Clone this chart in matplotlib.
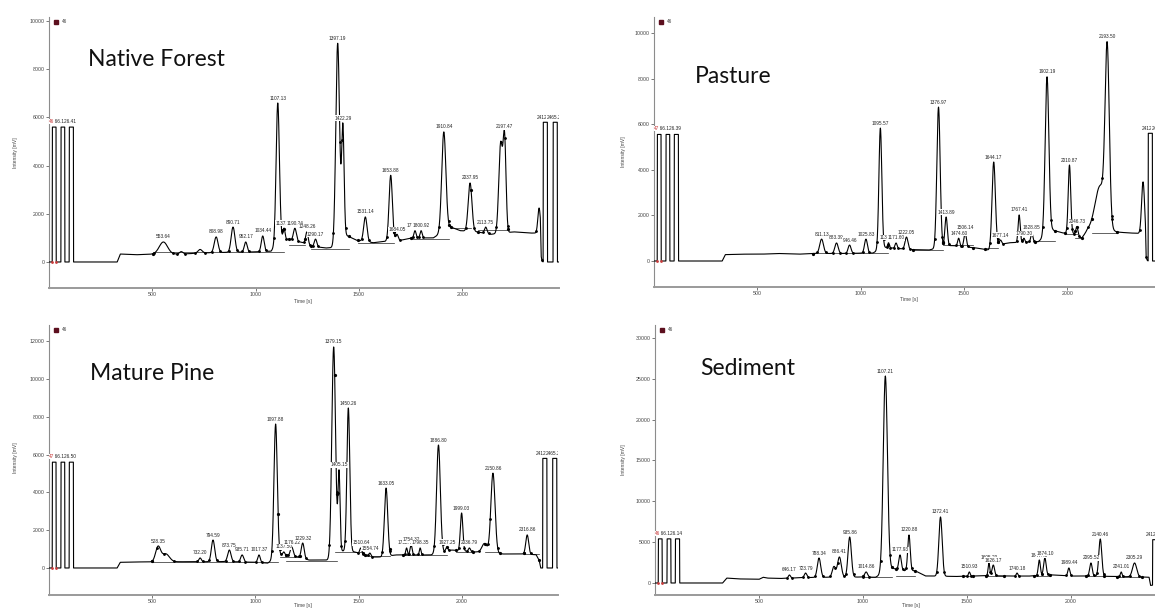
import numpy as np
import matplotlib
matplotlib.use("Agg")
import matplotlib.pyplot as plt

# ---------------- data ----------------
# Native Forest
nf_peak_x = [553.64, 640, 731, 808.98, 890.71, 952.17, 1034.44, 1107.13, 1137.58, 1190.24, 1248.26, 1290.17,
             1397.19, 1422.29, 1531.14, 1653.88, 1684.05, 1771.40, 1800.92, 1910.84, 2037.95, 2113.75,
             2186, 2205, 2372]
nf_peak_top = [830, 430, 520, 1040, 1450, 830, 1080, 6600, 1400, 1400, 1250, 950,
               9080, 5600, 1870, 3600, 1150, 1300, 1300, 5400, 3280, 1450,
               4900, 5000, 2240]
nf_peak_sd = [20, 8, 10, 9, 9, 7, 7, 8, 5, 7, 6, 6,
              9, 6, 8, 8, 6, 5, 5, 10, 9, 6,
              9, 7, 6]
nf_peak_lab = ["553.64", "", "", "808.98", "890.71", "952.17", "1034.44", "1107.13", "1137.58", "1190.24",
               "1248.26", "1290.17", "1397.19", "1422.29", "1531.14", "1653.88", "1684.05", "1771.40",
               "1800.92", "1910.84", "2037.95", "2113.75", "", "2197.47", ""]
nf_base_x = [0, 330, 345, 420, 520, 640, 760, 860, 1000, 1075, 1120, 1160, 1230, 1270, 1340, 1375, 1440,
             1490, 1570, 1620, 1700, 1760, 1860, 1945, 1990, 2070, 2140, 2250, 2330, 2378, 2382, 2466]
nf_base_y = [0, 0, 330, 300, 330, 330, 380, 400, 420, 450, 900, 950, 800, 660, 580, 600, 1100,
             900, 800, 850, 900, 1000, 1000, 1450, 1300, 1250, 1150, 1250, 1200, 1200, 0, 0]
nf_seg_x0 = [505, 1160, 1266, 1495, 1752, 1946, 2078]
nf_seg_x1 = [1136, 1240, 1450, 1670, 1937, 2043, 2223]
nf_seg_y = [430, 700, 540, 800, 950, 1400, 1330]

# Pasture
pa_peak_x = [811.13, 883.39, 946.46, 1025.83, 1095.57, 1135.20, 1171.60, 1222.05, 1376.97, 1413.89,
             1474.60, 1506.14, 1644.17, 1677.14, 1767.41, 1790.30, 1828.85, 1902.19, 2010.87, 2046.73,
             2160, 2193.50, 2367]
pa_peak_top = [960, 790, 700, 960, 5830, 800, 790, 1050, 6750, 1930,
               1000, 1230, 4340, 920, 2020, 1000, 1230, 8080, 4210, 1500,
               3300, 8800, 3470]
pa_peak_sd = [9, 8, 7, 7, 7, 4, 5, 7, 8, 6,
              5, 6, 8, 5, 5, 4, 5, 9, 6, 5,
              25, 10, 7]
pa_peak_lab = ["811.13", "883.39", "946.46", "1025.83", "1095.57", "1135.20", "1171.60", "1222.05",
               "1376.97", "1413.89", "1474.60", "1506.14", "1644.17", "1677.14", "1767.41", "1790.30",
               "1828.85", "1902.19", "2010.87", "2046.73", "", "2193.50", ""]
pa_base_x = [0, 330, 345, 420, 520, 600, 700, 780, 900, 1060, 1110, 1250, 1330, 1390, 1440, 1560, 1620,
             1660, 1720, 1860, 1930, 1980, 2030, 2070, 2100, 2240, 2300, 2378, 2382, 2466]
pa_base_y = [0, 0, 280, 300, 300, 330, 300, 330, 330, 350, 600, 500, 480, 600, 680, 570, 480,
             700, 800, 850, 1350, 1230, 1200, 1000, 1350, 1270, 1230, 1200, 0, 0]
pa_seg_x0 = [770, 1254, 1400, 1602, 1843, 1988, 2040, 2119]
pa_seg_x1 = [1131, 1399, 1545, 1665, 1940, 2046, 2070, 2240]
pa_seg_y = [350, 470, 680, 570, 890, 1200, 1000, 1230]

# Mature Pine
mp_peak_x = [528.35, 565, 732.20, 794.59, 873.75, 935.71, 1017.37, 1097.88, 1137.50, 1176.22, 1229.32,
             1379.15, 1405.15, 1450.26, 1510.64, 1554.74, 1633.05, 1732.40, 1754.32, 1798.35, 1886.80,
             1927.25, 1999.03, 2036.79, 2110, 2150.86, 2316.86]
mp_peak_top = [1110, 750, 530, 1480, 950, 690, 690, 7620, 850, 1110, 1320,
               11700, 5020, 8470, 1060, 790, 4230, 1060, 1220, 1060, 6510,
               1110, 2910, 1060, 1300, 5020, 1750]
mp_peak_sd = [12, 18, 6, 8, 8, 7, 6, 8, 5, 7, 7,
              9, 5, 7, 5, 5, 8, 4, 5, 4, 9,
              5, 6, 5, 12, 10, 7]
mp_peak_lab = ["528.35", "", "732.20", "794.59", "873.75", "935.71", "1017.37", "1097.88", "1137.50",
               "1176.22", "1229.32", "1379.15", "1405.15", "1450.26", "1510.64", "1554.74", "1633.05",
               "1732.40", "1754.32", "1798.35", "1886.80", "1927.25", "1999.03", "2036.79", "",
               "2150.86", "2316.86"]
mp_base_x = [0, 330, 345, 420, 480, 620, 700, 760, 860, 1000, 1060, 1120, 1200, 1260, 1360, 1420, 1480,
             1570, 1610, 1680, 1850, 1950, 2060, 2100, 2200, 2300, 2360, 2375, 2382, 2466]
mp_base_y = [0, 0, 300, 320, 320, 330, 330, 330, 340, 300, 260, 700, 600, 420, 420, 900, 850,
             580, 580, 690, 690, 950, 850, 850, 740, 740, 700, 400, 0, 0]
mp_seg_x0 = [500, 1118, 1150, 1384, 1530, 1713, 1970, 2112, 2300]
mp_seg_x1 = [1110, 1215, 1394, 1520, 1650, 1926, 2055, 2185, 2373]
mp_seg_y = [320, 580, 370, 850, 630, 690, 850, 850, 740]

# Sediment
sd_peak_x = [646.17, 723.79, 788.34, 860, 886.41, 935.86, 1014.86, 1107.21, 1177.93, 1220.88, 1372.41,
             1510.93, 1605.20, 1626.17, 1740.18, 1847.40, 1874.10, 1989.44, 2095.52, 2140.46, 2241.01,
             2305.29]
sd_peak_top = [980, 1220, 3060, 2000, 3180, 5630, 1350, 25340, 3430, 5880, 8080,
               1350, 2450, 2200, 1220, 2815, 3060, 1840, 2450, 5385, 1350,
               2450]
sd_peak_sd = [5, 6, 8, 8, 9, 8, 7, 10, 6, 6, 8,
              4, 4, 6, 4, 5, 6, 5, 6, 7, 4,
              10]
sd_peak_lab = ["646.17", "723.79", "788.34", "", "886.41", "935.86", "1014.86", "1107.21", "1177.93",
               "1220.88", "1372.41", "1510.93", "1605.20", "1626.17", "1740.18", "1847.40", "1874.10",
               "1989.44", "2095.52", "2140.46", "2241.01", "2305.29"]
sd_base_x = [0, 325, 345, 400, 500, 520, 540, 600, 700, 800, 1000, 1060, 1140, 1200, 1250, 1300, 1450,
             1600, 1700, 1800, 1900, 2000, 2100, 2200, 2350, 2375, 2382, 2466]
sd_base_y = [0, 0, 600, 500, 450, 700, 600, 550, 650, 700, 730, 700, 1800, 1500, 1500, 860, 800,
             900, 850, 850, 1000, 850, 850, 800, 730, 700, -300, 0]
sd_seg_x0 = [1000, 1159, 1480, 1590, 1820, 2070, 2220]
sd_seg_x1 = [1140, 1250, 1530, 1680, 1900, 2160, 2340]
sd_seg_y = [730, 860, 800, 850, 880, 850, 780]

# size-standard pulses at both ends of every run
std_x0 = [16, 58, 98]
std_x1 = [34, 76, 118]
end_x0 = [2392, 2440]
end_x1 = [2412, 2460]
end_lab = ["2412.34", "2465.21"]

W, H = 1155, 608
x = np.arange(0, 2466.5, 0.5)


def px_x(p):
    return p / W


def px_y(p):
    return 1 - p / H


def build_trace(bx, by, pk_x, pk_top, pk_sd, std_h, end_h):
    y = np.interp(x, bx, by)
    for c, top, s in zip(pk_x, pk_top, pk_sd):
        amp = top - np.interp(c, bx, by)
        y = y + amp * np.exp(-0.5 * ((x - c) / s) ** 2)
    for a, b in zip(std_x0, std_x1):
        y[(x >= a) & (x <= b)] = std_h
    for a, b in zip(end_x0, end_x1):
        y[(x >= a) & (x <= b)] = end_h
    return y


def panel(rect_px, ylim, yticks, y, pk_x, pk_sd, pk_lab, s0, s1, sy, std_txt, red_txt):
    l, t, r, b = rect_px
    ax = fig.add_axes([px_x(l), px_y(b), (r - l) / W, (b - t) / H])
    ax.set_xlim(0, 2466)
    ax.set_ylim(*ylim)
    dy = (ylim[1] - ylim[0]) / (b - t)   # data units per pixel

    ax.plot(x, y, color="black", lw=0.8, zorder=3)
    for a, c, v in zip(s0, s1, sy):
        ax.plot([a, c], [v, v], color="#222222", lw=0.5, zorder=2)
        ax.plot([a, c], np.interp([a, c], x, y), "o", color="black", ms=1.3, zorder=4)
    # peak start / end dots
    for c, s in zip(pk_x, pk_sd):
        ex = [c - 2.3 * s, c + 2.3 * s]
        ax.plot(ex, np.interp(ex, x, y), "o", color="black", ms=1.0, zorder=4)

    lab_kw = dict(fontsize=3.4, family="Liberation Sans", color="#222222", ha="center", va="bottom",
                  clip_on=True, zorder=6, bbox=dict(fc="white", ec="none", pad=0.15))
    for c, lab in zip(pk_x, pk_lab):
        if lab == "":
            continue
        top = np.interp(c, x, y)
        ax.text(c, top + 2.5 * dy, lab, **lab_kw)
    end_top = y[(x >= end_x0[0]) & (x <= end_x1[0])].max()
    for a, c, lab in zip(end_x0, end_x1, end_lab):
        ax.text((a + c) / 2, end_top + 2.5 * dy, lab, **lab_kw)

    std_top = y[(x >= std_x0[0]) & (x <= std_x1[0])].max()
    kw = dict(fontsize=3.4, family="Liberation Sans", ha="left", va="bottom", zorder=6)
    ax.text(2, std_top + 3 * dy, std_txt, color="#222222", **kw)
    ax.text(2, std_top + 3 * dy, red_txt, color="#c83c3c",
            bbox=dict(fc="white", ec="none", pad=0.0), **kw)
    ax.plot([std_x0[0], std_x1[0]], [0, 0], "o", color="#c83c3c", ms=1.0, zorder=5)

    # little series key in the corner
    ax.plot([0.013], [0.982], "s", color="#5c0f1e", ms=2.6, transform=ax.transAxes, clip_on=False)
    ax.text(0.026, 0.982, "46", transform=ax.transAxes, fontsize=3.4, color="#444444",
            family="Liberation Sans", va="center")

    ax.set_yticks(yticks)
    ax.set_xticks([500, 1000, 1500, 2000])
    for sp in ["top", "right"]:
        ax.spines[sp].set_visible(False)
    ax.spines["left"].set_color("#8c8c8c")
    ax.spines["left"].set_linewidth(0.8)
    ax.spines["bottom"].set_color("#9a9a9a")
    ax.spines["bottom"].set_linewidth(1.4)
    ax.tick_params(labelsize=3.8, colors="#444444", length=2, width=0.5, pad=1)
    for tl in ax.get_xticklabels() + ax.get_yticklabels():
        tl.set_family("Liberation Sans")
    ax.set_facecolor("none")
    return ax


fig = plt.figure(figsize=(W / 100, H / 100), dpi=100)

y_nf = build_trace(nf_base_x, nf_base_y, nf_peak_x, nf_peak_top, nf_peak_sd, 5600, 5800)
y_pa = build_trace(pa_base_x, pa_base_y, pa_peak_x, pa_peak_top, pa_peak_sd, 5550, 5600)
y_mp = build_trace(mp_base_x, mp_base_y, mp_peak_x, mp_peak_top, mp_peak_sd, 5600, 5800)
y_sd = build_trace(sd_base_x, sd_base_y, sd_peak_x, sd_peak_top, sd_peak_sd, 5400, 5300)

panel((49, 17, 558.5, 288), (-1080, 10170), range(0, 10001, 2000), y_nf,
      nf_peak_x, nf_peak_sd, nf_peak_lab, nf_seg_x0, nf_seg_x1, nf_seg_y, "46.66.126.41", "46")
panel((654, 17, 1163.5, 287), (-1140, 10700), range(0, 10001, 2000), y_pa,
      pa_peak_x, pa_peak_sd, pa_peak_lab, pa_seg_x0, pa_seg_x1, pa_seg_y, "47.66.126.39", "47")
panel((49, 325, 558, 595), (-1430, 12860), range(0, 12001, 2000), y_mp,
      mp_peak_x, mp_peak_sd, mp_peak_lab, mp_seg_x0, mp_seg_x1, mp_seg_y, "47.66.126.50", "47")
panel((655, 325, 1168, 595), (-1470, 31580), range(0, 30001, 5000), y_sd,
      sd_peak_x, sd_peak_sd, sd_peak_lab, sd_seg_x0, sd_seg_x1, sd_seg_y, "46.66.126.14", "46")

# big sample names
titles = ["Native Forest", "Pasture", "Mature Pine", "Sediment"]
title_px = [(88, 66), (695, 83), (90, 380), (700, 375)]
for name, (tx, ty) in zip(titles, title_px):
    fig.text(px_x(tx), px_y(ty), name, fontsize=16.5, family="Lato", color="#111111", va="baseline")

# axis titles
ylab_px = [(15, 153), (623, 152), (15, 458), (623, 460)]
xlab_px = [(303, 302), (909, 300), (303, 606), (911, 606)]
for (lx, ly) in ylab_px:
    fig.text(px_x(lx), px_y(ly), "Intensity [mV]", rotation=90, fontsize=3.6, family="Liberation Sans",
             color="#444444", ha="center", va="center")
for (lx, ly) in xlab_px:
    fig.text(px_x(lx), px_y(ly), "Time [s]", fontsize=3.6, family="Liberation Sans",
             color="#444444", ha="center", va="center")

fig.savefig("out.png", dpi=100)
